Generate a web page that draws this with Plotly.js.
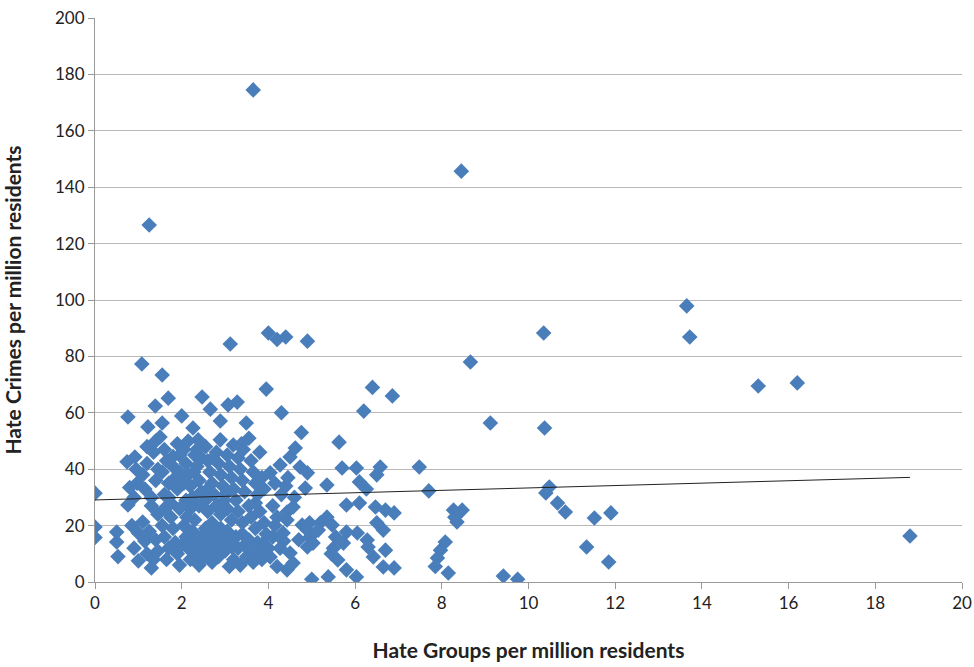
<!DOCTYPE html>
<html>
<head>
<meta charset="utf-8">
<script src="https://cdn.plot.ly/plotly-3.0.1.min.js"></script>
<style>html,body{margin:0;padding:0;background:#fff;}#chart{width:974px;height:667px;}</style>
</head>
<body>
<div id="chart"></div>
<script>
// Hate groups per million residents (x) vs hate crimes per million residents (y)
const points = [
  [0,31.5],[0,19.5],[0,15.8],[0.5,17.7],[0.5,14.2],[0.53,9],[0.76,58.5],[0.74,42.6],[0.92,44.3],[0.76,27.3],[0.8,33.5],[0.97,35],[0.9,30],[1.0,17.4],[1.0,7.5],[0.95,40],[1.08,77.3],[0.9,12],[0.85,20],
  [1.25,126.6],[1.22,55],[1.39,62.4],[1.1,21.3],[1.3,5],[1.15,14.5],[1.2,10],[1.35,8],[1.1,38],[1.2,42],[1.15,33],[1.3,30],[1.35,46],[1.4,36],[1.45,40],[1.25,18],[1.4,15],[1.45,11],[1.3,27],[1.45,24],[1.2,48],[1.4,50],
  [1.55,73.4],[1.69,65.2],[1.55,56.4],[1.5,51.4],[1.6,47],[1.65,43],[1.55,39],[1.7,35],[1.6,31],[1.75,28],[1.8,41],[1.85,37],[1.9,33],[1.95,45],[1.96,38.7],[1.55,20],[1.6,16],[1.7,12],[1.65,8],[1.8,19],[1.85,14],[1.9,10],[1.95,6],[1.75,23],[1.95,26],[2.0,58.9],[1.9,49],[1.8,44.5],[1.7,30],[1.6,26],
  [2.26,54.6],[2.38,50.4],[2.47,65.6],[2.05,47],[2.1,42],[2.15,38],[2.2,34],[2.25,30],[2.3,45],[2.35,41],[2.4,36],[2.45,32],[2.05,35],[2.1,29],[2.2,26],[2.3,22],[2.4,27],[2.05,20],[2.1,16],[2.15,12],[2.2,8],[2.25,18],[2.3,14],[2.35,10],[2.4,6],[2.45,16],[2.5,12],[2.12,23],[2.0,13],[2.35,47],[2.45,44],[2.15,50],[2.28,39],
  [2.66,61.3],[2.89,57.1],[2.89,50.4],[2.55,48],[2.6,43],[2.65,39],[2.7,35],[2.75,31],[2.8,46],[2.85,42],[2.9,38],[2.95,34],[2.55,29],[2.6,25],[2.7,21],[2.8,27],[2.9,24],[2.55,19],[2.6,15],[2.65,11],[2.7,7],[2.75,17],[2.8,13],[2.85,9],[2.9,19],[2.95,15],[3.0,11],[2.6,33],[2.72,44],[2.98,29],[2.5,8.5],
  [3.07,62.8],[3.28,63.8],[3.12,84.4],[3.49,56.4],[3.19,48.6],[3.05,45],[3.1,41],[3.15,37],[3.2,33],[3.25,29],[3.3,44],[3.35,40],[3.4,36],[3.45,32],[3.05,26],[3.15,22],[3.3,25],[3.4,21],[3.05,18],[3.1,14],[3.16,12.4],[3.2,8],[3.25,16],[3.3,12],[3.35,6],[3.4,17],[3.45,13],[3.5,9],[3.1,5.5],[3.42,47],[3.38,49],[3.0,31],
  [3.65,174.5],[3.95,68.4],[3.6,43],[3.65,39],[3.7,35],[3.75,31],[3.8,46],[3.85,37],[3.9,33],[3.55,27],[3.6,23],[3.7,19],[3.8,25],[3.9,21],[3.55,15],[3.6,11],[3.65,7],[3.75,14],[3.8,10],[3.88,13.8],[3.95,17],[3.55,51],[3.7,28],[3.85,8],
  [4.0,88.3],[4.2,86],[4.4,86.9],[4.3,60],[4.04,38.7],[4.27,41.5],[4.5,44.3],[4.15,35],[4.3,31],[4.45,37],[4.1,27],[4.2,23],[4.43,24.8],[4.43,22],[4.1,16],[4.34,17.4],[4.27,12],[4.5,10.3],[4.04,8.9],[4.43,4.3],[4.57,6.7],[4.15,20],[4.35,14.5],[4.2,5.5],[4.0,12],[4.4,34],
  [4.9,85.4],[4.76,53],[4.62,47.5],[4.73,40.8],[4.9,38.7],[4.85,33.3],[4.57,26.6],[4.78,20.2],[4.9,18.4],[4.96,16],[4.9,12.4],[4.6,30],[4.7,15],[4.95,21],
  [5.0,1],[5.03,13.8],[5.15,18.4],[5.35,23],[5.47,20.2],[5.35,34.4],[5.5,12],[5.6,7.8],[5.63,49.6],[5.7,40.4],[5.73,13.8],[5.8,17.7],[5.8,27.3],[5.8,4.3],[5.38,1.8],[5.2,21],[5.55,16],[5.45,10],
  [6.03,40.4],[6.03,1.8],[6.05,17.4],[6.1,35.5],[6.1,28],[6.2,60.6],[6.26,33],[6.28,14.9],[6.3,12.4],[6.4,69],[6.42,8.9],[6.47,26.6],[6.5,38],[6.5,21],[6.58,40.8],[6.65,18.4],[6.65,5.3],[6.7,25.5],[6.7,11.3],[6.86,66],[6.9,24.5],[6.9,5],
  [7.48,40.8],[7.7,32.3],[7.97,11.3],[8.08,14.2],[8.15,3.2],[8.27,25.5],[8.35,21.3],[8.47,25.5],[8.45,145.7],[8.66,78],[9.12,56.4],[9.42,2.1],[9.75,1],[7.9,8.5],[7.85,5.5],[8.3,23],
  [10.35,88.3],[10.37,54.6],[10.48,33.7],[10.4,31.6],[10.67,28],[10.85,24.8],[11.34,12.4],[11.52,22.7],[11.85,7.1],[11.9,24.5],[13.65,97.9],[13.72,86.9],[15.3,69.5],[16.2,70.6],[18.8,16.3]
];
const hateGroups = points.map(p => p[0]);
const hateCrimes = points.map(p => p[1]);

// Linear trendline end points
const trendX = [0, 18.8];
const trendY = [29.1, 37.1];

const xTicks = [0,2,4,6,8,10,12,14,16,18,20];
const yTicks = [0,20,40,60,80,100,120,140,160,180,200];

const font = 'Lato, "Open Sans", "Liberation Sans", sans-serif';

const traces = [
  {
    type: 'scatter', mode: 'markers', x: hateGroups, y: hateCrimes,
    marker: {symbol: 'diamond', size: 12, color: '#4A7EBB', line: {width: 0}},
    hoverinfo: 'x+y', showlegend: false
  },
  {
    type: 'scatter', mode: 'lines', x: trendX, y: trendY,
    line: {color: '#222222', width: 1}, showlegend: false, hoverinfo: 'skip'
  }
];

const layout = {
  width: 974, height: 667,
  margin: {l: 95, r: 12, t: 18, b: 85},
  paper_bgcolor: '#ffffff', plot_bgcolor: '#ffffff',
  font: {family: font, size: 17, color: '#222'},
  xaxis: {
    range: [0, 20], tickvals: xTicks, ticktext: xTicks.map(String),
    showgrid: false, zeroline: false,
    showline: true, linecolor: '#999', linewidth: 1,
    ticks: 'outside', ticklen: 6, tickcolor: '#999',
    tickfont: {family: font, size: 17, color: '#222'},
    title: {text: '<b>Hate Groups per million residents</b>', font: {family: font, size: 21, color: '#222'}, standoff: 30}
  },
  yaxis: {
    range: [0, 200], tickvals: yTicks, ticktext: yTicks.map(String),
    showgrid: true, gridcolor: '#b8b8b8', gridwidth: 1, zeroline: false,
    showline: true, linecolor: '#999', linewidth: 1,
    ticks: 'outside', ticklen: 6, tickcolor: '#999',
    tickfont: {family: font, size: 17, color: '#222'},
    title: {text: '<b>Hate Crimes per million residents</b>', font: {family: font, size: 21, color: '#222'}, standoff: 28}
  }
};

Plotly.newPlot('chart', traces, layout, {displayModeBar: false, staticPlot: true});
</script>
</body>
</html>
